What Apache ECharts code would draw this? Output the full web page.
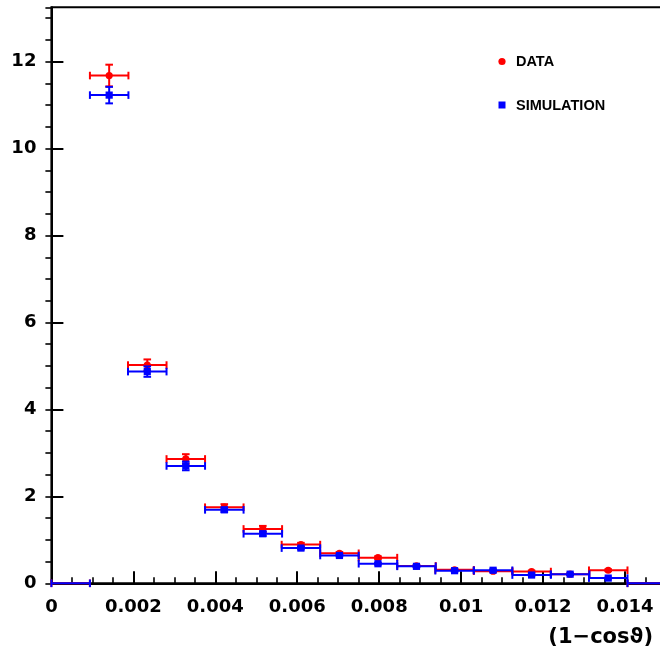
<!DOCTYPE html>
<html>
<head>
<meta charset="utf-8">
<script src="https://cdn.jsdelivr.net/npm/echarts@6/dist/echarts.min.js"></script>
<style>
html,body{margin:0;padding:0;background:#fff;}
#chart{width:660px;height:656px;}
</style>
</head>
<body>
<div id="chart"></div>
<script>
// ---- data ----
const binCenters = [0.00141, 0.00234, 0.00328, 0.00422, 0.00516, 0.00609, 0.00703, 0.00797, 0.00891, 0.00984, 0.01078, 0.01172, 0.01266, 0.01359];
const binHalfWidth = 0.00047;
const emptyBinCenters = [0.00047, 0.01453];
const dataValues = [11.68, 5.02, 2.86, 1.75, 1.25, 0.89, 0.69, 0.59, 0.40, 0.31, 0.28, 0.27, 0.21, 0.30];
const dataErrors = [0.25, 0.13, 0.11, 0.07, 0.07, 0.04, 0.03, 0.03, 0.02, 0.02, 0.02, 0.02, 0.02, 0.02];
const simValues  = [11.23, 4.87, 2.70, 1.69, 1.14, 0.81, 0.64, 0.45, 0.39, 0.29, 0.30, 0.19, 0.21, 0.12];
const simErrors  = [0.19, 0.12, 0.10, 0.05, 0.05, 0.03, 0.02, 0.02, 0.02, 0.02, 0.02, 0.01, 0.01, 0.01];
const yTickLabels = [0, 2, 4, 6, 8, 10, 12];
const xTickLabels = [0, 0.002, 0.004, 0.006, 0.008, 0.01, 0.012, 0.014];
const legendNames = ['DATA', 'SIMULATION'];
const xTitle = '(1\u2212cos\u03D1)';

function buildRows(values, errors) {
  const rows = binCenters.map((c, i) => [c, values[i], errors[i], binHalfWidth, 1]);
  emptyBinCenters.forEach(c => rows.push([c, 0, 0, binHalfWidth, 0]));
  return rows;
}

function makeRender(color, shape) {
  return function (params, api) {
    const x = api.value(0), y = api.value(1), e = api.value(2), hw = api.value(3), mk = api.value(4);
    const pL = api.coord([x - hw, y]);
    const pR = api.coord([x + hw, y]);
    const pC = api.coord([x, y]);
    const st = { stroke: color, lineWidth: 2 };
    const cap = 3.8;
    const children = [
      { type: 'line', shape: { x1: pL[0], y1: pL[1], x2: pR[0], y2: pR[1] }, style: st },
      { type: 'line', shape: { x1: pL[0], y1: pL[1] - cap, x2: pL[0], y2: pL[1] + cap }, style: st },
      { type: 'line', shape: { x1: pR[0], y1: pR[1] - cap, x2: pR[0], y2: pR[1] + cap }, style: st }
    ];
    if (e > 0) {
      const pT = api.coord([x, y + e]);
      const pB = api.coord([x, y - e]);
      children.push(
        { type: 'line', shape: { x1: pT[0], y1: pT[1], x2: pB[0], y2: pB[1] }, style: st },
        { type: 'line', shape: { x1: pT[0] - cap, y1: pT[1], x2: pT[0] + cap, y2: pT[1] }, style: st },
        { type: 'line', shape: { x1: pB[0] - cap, y1: pB[1], x2: pB[0] + cap, y2: pB[1] }, style: st }
      );
    }
    if (mk === 1) {
      if (shape === 'circle') {
        children.push({ type: 'circle', shape: { cx: pC[0], cy: pC[1], r: 3.6 }, style: { fill: color } });
      } else {
        children.push({ type: 'rect', shape: { x: pC[0] - 3.6, y: pC[1] - 3.6, width: 7.2, height: 7.2 }, style: { fill: color } });
      }
    }
    return { type: 'group', children: children };
  };
}

const labelFont = { fontFamily: 'DejaVu Sans', fontWeight: 'bold', fontSize: 18, color: '#000' };

const chart = echarts.init(document.getElementById('chart'), null, { renderer: 'canvas' });
chart.setOption({
  animation: false,
  backgroundColor: '#fff',
  grid: { left: 51.4, top: 7.3, width: 614.6, height: 576, outerBoundsMode: 'none', containLabel: false,
          show: true, borderColor: '#000', borderWidth: 2, backgroundColor: 'transparent' },
  xAxis: [
    {
      type: 'value', min: 0, max: 0.015, interval: 0.002, position: 'bottom',
      axisLine: { show: true, onZero: false, lineStyle: { color: '#000', width: 2 } },
      axisTick: { show: true, inside: true, length: 12, lineStyle: { color: '#000', width: 2 } },
      axisLabel: Object.assign({ margin: 15, showMaxLabel: false,
        formatter: v => xTickLabels.some(t => Math.abs(t - v) < 1e-9) ? String(+v.toFixed(4)) : '' }, labelFont),
      splitLine: { show: false }
    },
    {
      type: 'value', min: 0, max: 0.015, interval: 0.0005, position: 'bottom', gridIndex: 0,
      axisLine: { show: false },
      axisTick: { show: true, inside: true, length: 6, lineStyle: { color: '#000', width: 1.6 } },
      axisLabel: { show: false },
      splitLine: { show: false }
    }
  ],
  yAxis: [
    {
      type: 'value', min: 0, max: 13.25, interval: 2,
      axisLine: { show: true, onZero: false, lineStyle: { color: '#000', width: 2 } },
      axisTick: { show: true, inside: true, length: 12, lineStyle: { color: '#000', width: 2 } },
      axisLabel: Object.assign({ margin: 15, showMaxLabel: false,
        formatter: v => yTickLabels.indexOf(v) >= 0 ? String(v) : '' }, labelFont),
      splitLine: { show: false }
    },
    {
      type: 'value', min: 0, max: 13.25, interval: 0.5,
      axisLine: { show: false },
      axisTick: { show: true, inside: true, length: 6, lineStyle: { color: '#000', width: 1.6 } },
      axisLabel: { show: false },
      splitLine: { show: false }
    }
  ],
  series: [
    {
      name: legendNames[0], type: 'custom', xAxisIndex: 0, yAxisIndex: 0,
      renderItem: makeRender('#ff0000', 'circle'),
      data: buildRows(dataValues, dataErrors), z: 3
    },
    {
      name: legendNames[1], type: 'custom', xAxisIndex: 0, yAxisIndex: 0,
      renderItem: makeRender('#0000ff', 'square'),
      data: buildRows(simValues, simErrors), z: 4
    }
  ],
  graphic: [
    { type: 'circle', shape: { cx: 502, cy: 61.5, r: 3.6 }, style: { fill: '#ff0000' }, z: 10 },
    { type: 'text', x: 516, y: 62, style: { text: legendNames[0], fontFamily: 'Liberation Sans', fontWeight: 'bold', fontSize: 14.5, fill: '#000', verticalAlign: 'middle', align: 'left' }, z: 10 },
    { type: 'rect', shape: { x: 498.5, y: 101.5, width: 7, height: 7 }, style: { fill: '#0000ff' }, z: 10 },
    { type: 'text', x: 516, y: 105.5, style: { text: legendNames[1], fontFamily: 'Liberation Sans', fontWeight: 'bold', fontSize: 14.5, fill: '#000', verticalAlign: 'middle', align: 'left' }, z: 10 },
    { type: 'text', x: 653, y: 638, style: { text: xTitle, fontFamily: 'DejaVu Sans', fontWeight: 'bold', fontSize: 21, fill: '#000', verticalAlign: 'middle', align: 'right' }, z: 10 }
  ]
});
</script>
</body>
</html>
